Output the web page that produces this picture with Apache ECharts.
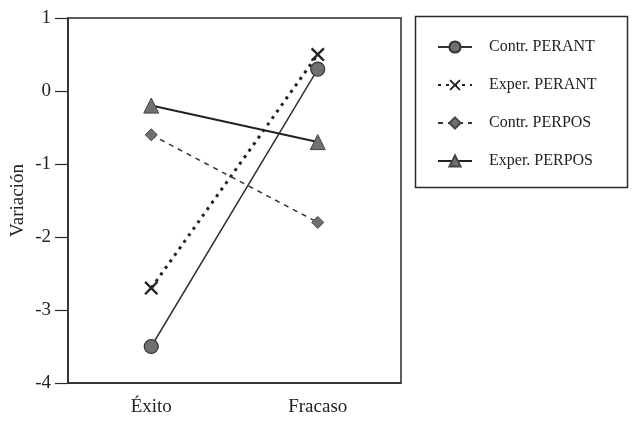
<!DOCTYPE html>
<html>
<head>
<meta charset="utf-8">
<script src="https://cdn.jsdelivr.net/npm/echarts@6/dist/echarts.min.js"></script>
<style>html,body{margin:0;padding:0;background:#fff}#c{width:633px;height:423px}</style>
</head>
<body>
<div id="c"></div>
<script>
var categories = ['Éxito', 'Fracaso'];
var seriesNames = ['Contr. PERANT', 'Exper. PERANT', 'Contr. PERPOS', 'Exper. PERPOS'];
var contrPerant = [-3.5, 0.3];
var experPerant = [-2.7, 0.5];
var contrPerpos = [-0.6, -1.8];
var experPerpos = [-0.2, -0.7];
var yTicks = [-4, -3, -2, -1, 0, 1];

var serif = '"Liberation Serif", "DejaVu Serif", serif';
var xPath = 'path://M0,1.2L1.2,0L5,3.8L8.8,0L10,1.2L6.2,5L10,8.8L8.8,10L5,6.2L1.2,10L0,8.8L3.8,5Z';

var chart = echarts.init(document.getElementById('c'), null, {renderer: 'canvas'});
chart.setOption({
  animation: false,
  backgroundColor: '#fff',
  grid: {left: 68, right: 232, top: 18, bottom: 40, containLabel: false, outerBoundsMode: 'none',
         show: true, borderColor: '#2a2a2a', borderWidth: 1.5, backgroundColor: 'transparent'},
  xAxis: {
    type: 'category', data: categories, boundaryGap: true,
    axisLine: {onZero: false, lineStyle: {color: '#2a2a2a', width: 1.5}},
    axisTick: {alignWithLabel: true, length: 12, lineStyle: {color: '#2a2a2a', width: 1.2}},
    axisLabel: {color: '#222', fontFamily: serif, fontSize: 19, margin: 15},
    splitLine: {show: false}
  },
  yAxis: {
    type: 'value', min: yTicks[0], max: yTicks[yTicks.length - 1], interval: 1,
    name: 'Variación', nameLocation: 'middle', nameGap: 40, nameMoveOverlap: false,
    nameTextStyle: {color: '#222', fontFamily: serif, fontSize: 19},
    axisLine: {show: true, onZero: false, lineStyle: {color: '#2a2a2a', width: 1.5}},
    axisTick: {show: true, length: 13, lineStyle: {color: '#2a2a2a', width: 1.2}},
    axisLabel: {color: '#222', fontFamily: serif, fontSize: 19, margin: 17},
    splitLine: {show: false}
  },
  legend: {
    orient: 'vertical', left: 432, top: 34,
    itemWidth: 34, itemHeight: 14, itemGap: 22,
    textStyle: {color: '#222', fontFamily: serif, fontSize: 16, padding: [0, 0, 0, 12]},
    data: seriesNames
  },
  graphic: [{type: 'rect', shape: {x: 415.5, y: 16.5, width: 212, height: 171}, style: {fill: 'none', stroke: '#2a2a2a', lineWidth: 1.5}, silent: true}],
  series: [
    {name: seriesNames[0], type: 'line', data: contrPerant, symbol: 'circle', symbolSize: 14,
     lineStyle: {color: '#333', width: 1.5, type: 'solid'},
     itemStyle: {color: '#707070', borderColor: '#333', borderWidth: 1.2}},
    {name: seriesNames[1], type: 'line', data: experPerant, symbol: xPath, symbolSize: 14,
     lineStyle: {color: '#222', width: 3, type: [3, 5]},
     itemStyle: {color: '#222', borderWidth: 0}},
    {name: seriesNames[2], type: 'line', data: contrPerpos, symbol: 'diamond', symbolSize: 12,
     lineStyle: {color: '#333', width: 1.5, type: [5, 5]},
     itemStyle: {color: '#707070', borderColor: '#444', borderWidth: 1}},
    {name: seriesNames[3], type: 'line', data: experPerpos, symbol: 'triangle', symbolSize: 15,
     lineStyle: {color: '#222', width: 2, type: 'solid'},
     itemStyle: {color: '#707070', borderColor: '#444', borderWidth: 1}}
  ]
});
</script>
</body>
</html>
